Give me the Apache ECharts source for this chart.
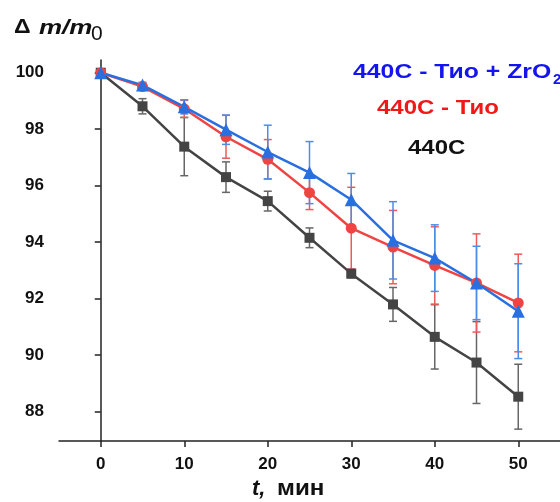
<!DOCTYPE html>
<html>
<head>
<meta charset="UTF-8">
<title>mass loss</title>
<script src="https://cdn.jsdelivr.net/npm/echarts@6/dist/echarts.min.js"></script>
<style>
	html, body { margin: 0; padding: 0; background: #fff; }
	#chart { width: 560px; height: 502px; }
</style>
</head>
<body>
<div id="chart"></div>
<script>
var times = [0, 5, 10, 15, 20, 25, 30, 35, 40, 45, 50];

// 440C
var steel    = [100, 98.81, 97.38, 96.30, 95.45, 94.15, 92.88, 91.79, 90.64, 89.73, 88.52];
var steelErr = [0, 0.27, 1.03, 0.54, 0.35, 0.35, 0.15, 0.60, 1.14, 1.45, 1.15];
// 440C - Тио
var tio      = [100, 99.51, 98.72, 97.73, 96.93, 95.75, 94.49, 93.82, 93.17, 92.55, 91.84];
var tioErr   = [0, 0.10, 0.30, 0.76, 0.70, 0.60, 1.45, 1.30, 1.37, 1.74, 1.73];
// 440C - Тио + ZrO2
var tioZr    = [100, 99.56, 98.79, 97.98, 97.19, 96.46, 95.50, 94.06, 93.43, 92.55, 91.55];
var tioZrErr = [0, 0.10, 0.25, 0.52, 0.95, 1.10, 0.93, 1.37, 1.18, 1.30, 1.68];

var xTicks = [0, 10, 20, 30, 40, 50];
var yTicks = [88, 90, 92, 94, 96, 98, 100];

var FONT = '"Liberation Sans", Arial, sans-serif';

function points(vals) {
	return times.map(function (t, i) { return [t, vals[i]]; });
}
function bars(vals, errs) {
	return times.map(function (t, i) { return [t, vals[i] - errs[i], vals[i] + errs[i]]; });
}
function errSeries(vals, errs, color) {
	return {
		type: 'custom',
		data: bars(vals, errs),
		encode: { x: 0, y: [1, 2] },
		silent: true,
		renderItem: function (params, api) {
			var lo = api.coord([api.value(0), api.value(1)]);
			var hi = api.coord([api.value(0), api.value(2)]);
			var w = 4;
			var st = { stroke: color, lineWidth: 1.5 };
			return {
				type: 'group',
				children: [
					{ type: 'line', shape: { x1: lo[0], y1: lo[1], x2: hi[0], y2: hi[1] }, style: st },
					{ type: 'line', shape: { x1: lo[0] - w, y1: lo[1], x2: lo[0] + w, y2: lo[1] }, style: st },
					{ type: 'line', shape: { x1: hi[0] - w, y1: hi[1], x2: hi[0] + w, y2: hi[1] }, style: st }
				]
			};
		}
	};
}
function lineSeries(vals, color, symbol, size) {
	return {
		type: 'line',
		data: points(vals),
		symbol: symbol,
		symbolSize: size,
		lineStyle: { color: color, width: 2.5 },
		itemStyle: { color: color },
		silent: true
	};
}

var myChart = echarts.init(document.getElementById('chart'));
var option = {
	animation: false,
	grid: { left: 59, right: 0, top: 60, bottom: 61 },
	xAxis: {
		type: 'value',
		min: -5,
		max: 55,
		axisLine: { show: true, lineStyle: { color: '#222', width: 1.5 } },
		axisTick: { show: true, customValues: xTicks, length: 6, lineStyle: { color: '#222', width: 1.5 } },
		axisLabel: { customValues: xTicks, color: '#111', fontSize: 17, fontWeight: 'bold', fontFamily: FONT, margin: 15 },
		splitLine: { show: false }
	},
	yAxis: {
		type: 'value',
		min: 86.95,
		max: 100.45,
		axisLine: { show: true, lineStyle: { color: '#222', width: 1.5 } },
		axisTick: { show: true, customValues: yTicks, length: 6, lineStyle: { color: '#222', width: 1.5 } },
		axisLabel: { customValues: yTicks, color: '#111', fontSize: 17, fontWeight: 'bold', fontFamily: FONT, margin: 15 },
		splitLine: { show: false }
	},
	series: [
		lineSeries(steel, '#444444', 'rect', 10),
		errSeries(steel, steelErr, '#666666'),
		lineSeries(tio, '#f04444', 'circle', 11),
		errSeries(tio, tioErr, '#ee5a5a'),
		lineSeries(tioZr, '#2a6fe0', 'triangle', 13),
		errSeries(tioZr, tioZrErr, '#4a8ee6')
	],
	graphic: [
		{ type: 'text', x: 14, y: 17, scaleX: 1.1, style: { text: 'Δ', fontSize: 21, fontWeight: 'bold', fontFamily: FONT, fill: '#111' } },
		{ type: 'text', x: 39, y: 18, scaleX: 1.3, style: { text: 'm/m', fontSize: 20, fontStyle: 'italic', fontWeight: 'bold', fontFamily: FONT, fill: '#111' } },
		{ type: 'text', x: 91, y: 24, style: { text: '0', fontSize: 21, fontFamily: FONT, fill: '#111' } },

		{ type: 'text', x: 353, y: 62, scaleX: 1.24, style: { text: '440C - Тио + ZrO', fontSize: 20, fontWeight: 'bold', fontFamily: FONT, fill: '#1414f0' } },
		{ type: 'text', x: 553, y: 72, style: { text: '2', fontSize: 15, fontWeight: 'bold', fontFamily: FONT, fill: '#1414f0' } },
		{ type: 'text', x: 377, y: 98, scaleX: 1.2, style: { text: '440C - Тио', fontSize: 20, fontWeight: 'bold', fontFamily: FONT, fill: '#f01818' } },
		{ type: 'text', x: 408, y: 138, scaleX: 1.2, style: { text: '440C', fontSize: 20, fontWeight: 'bold', fontFamily: FONT, fill: '#111' } },

		{ type: 'text', x: 252, y: 478, style: { text: 't,', fontSize: 22, fontStyle: 'italic', fontWeight: 'bold', fontFamily: FONT, fill: '#111' } },
		{ type: 'text', x: 277, y: 478, scaleX: 1.1, style: { text: 'мин', fontSize: 22, fontWeight: 'bold', fontFamily: FONT, fill: '#111' } }
	]
};
myChart.setOption(option);
</script>
</body>
</html>
